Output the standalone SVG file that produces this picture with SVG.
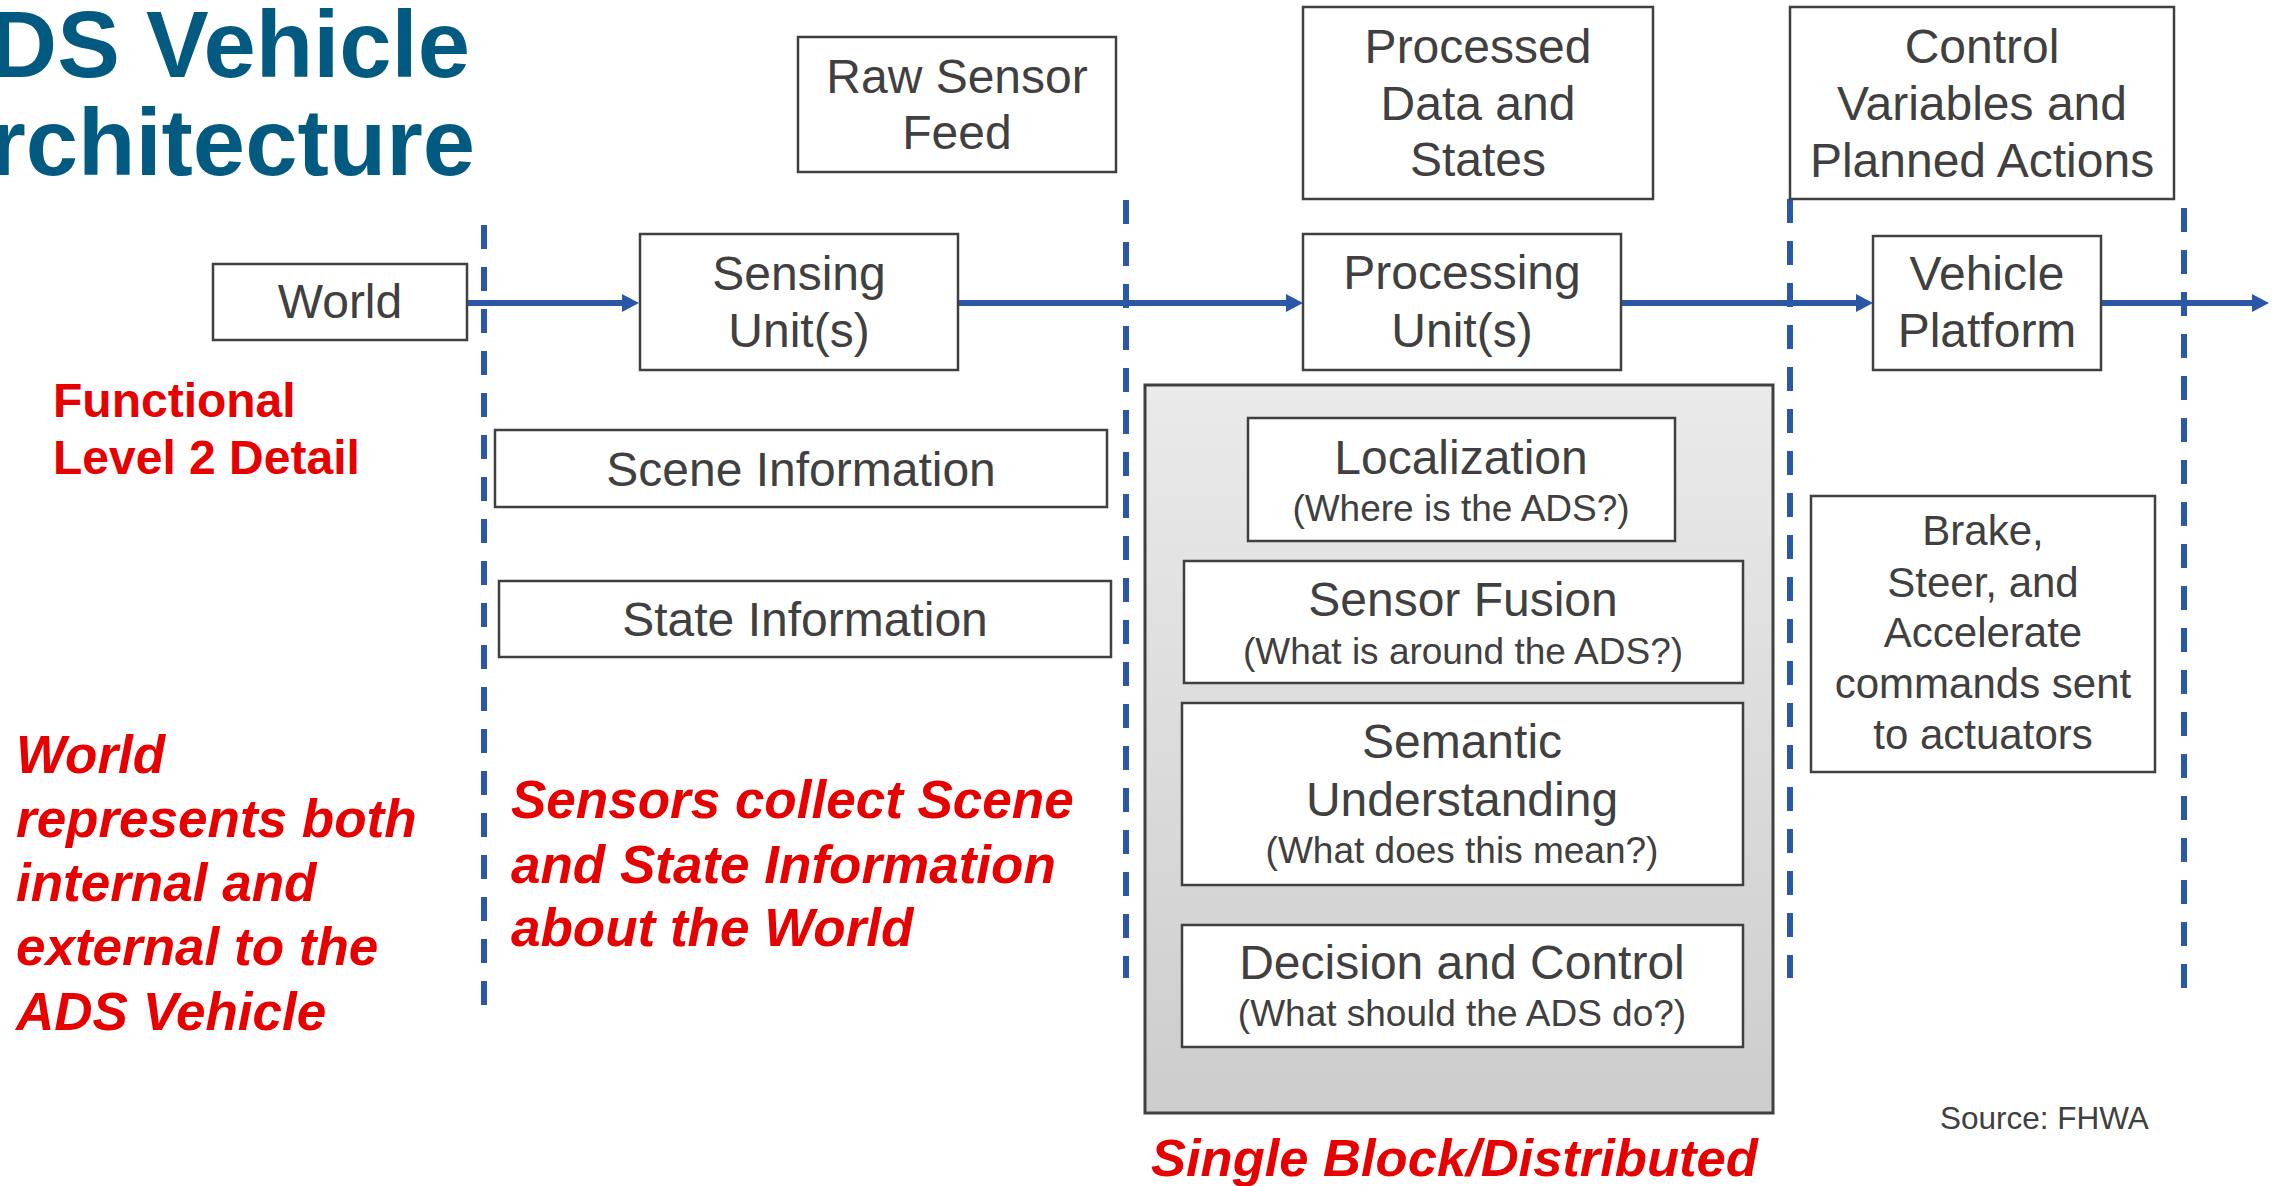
<svg xmlns="http://www.w3.org/2000/svg" width="2290" height="1186" viewBox="0 0 2290 1186">
<style>
.box{fill:#ffffff;stroke:#404040;stroke-width:2.5}
.t{font-family:"Liberation Sans",Arial,sans-serif;fill:#404040;text-anchor:middle;font-size:48px}
.s{font-size:37px}
.b{font-size:42px}
.red{font-family:"Liberation Sans",Arial,sans-serif;fill:#e60000;font-weight:bold}
.fn{font-size:48px}
.it{font-style:italic;font-size:53px}
.sb{font-size:52.5px}
.dash{stroke:#2b57a7;stroke-width:6;stroke-dasharray:24 18;fill:none}
.arr{stroke:#2b57a7;stroke-width:6;fill:none;marker-end:url(#ah)}
</style>
<defs>
<marker id="ah" markerUnits="userSpaceOnUse" markerWidth="17" markerHeight="18" refX="0" refY="9" orient="auto">
<path d="M0,0 L17,9 L0,18 z" fill="#2b57a7"/>
</marker>
<linearGradient id="gg" x1="0" y1="0" x2="0" y2="1">
<stop offset="0" stop-color="#eaeaea"/>
<stop offset="1" stop-color="#cdcdcd"/>
</linearGradient>
</defs>
<rect width="2290" height="1186" fill="#ffffff"/>
<g id="title" font-family="'Liberation Sans',Arial,sans-serif" font-weight="bold" font-size="94" fill="#035a80" text-anchor="end">
<text x="470" y="77">DS Vehicle</text>
<text x="475" y="175">rchitecture</text>
</g>
<g id="connectors">
<line class="dash" x1="484" y1="225" x2="484" y2="1005"/>
<line class="dash" x1="1126" y1="200" x2="1126" y2="978"/>
<line class="dash" x1="1790" y1="199" x2="1790" y2="978"/>
<line class="dash" x1="2184" y1="208" x2="2184" y2="988"/>
<line class="arr" x1="467" y1="303" x2="622" y2="303"/>
<line class="arr" x1="958" y1="303" x2="1286" y2="303"/>
<line class="arr" x1="1621" y1="303" x2="1856" y2="303"/>
<line class="arr" x1="2101" y1="303" x2="2252" y2="303"/>
</g>
<g id="world"><rect class="box" x="213" y="264" width="254" height="76"/><text class="t" x="340" y="318">World</text></g>
<g id="raw-sensor-feed"><rect class="box" x="798" y="37" width="318" height="135"/><text class="t" x="957" y="93">Raw Sensor</text><text class="t" x="957" y="149">Feed</text></g>
<g id="sensing-units"><rect class="box" x="640" y="234" width="318" height="136"/><text class="t" x="799" y="290">Sensing</text><text class="t" x="799" y="347">Unit(s)</text></g>
<g id="processed-data"><rect class="box" x="1303" y="7" width="350" height="192"/><text class="t" x="1478" y="63">Processed</text><text class="t" x="1478" y="120">Data and</text><text class="t" x="1478" y="176">States</text></g>
<g id="processing-units"><rect class="box" x="1303" y="234" width="318" height="136"/><text class="t" x="1462" y="289">Processing</text><text class="t" x="1462" y="347">Unit(s)</text></g>
<g id="control-variables"><rect class="box" x="1790" y="7" width="384" height="192"/><text class="t" x="1982" y="63">Control</text><text class="t" x="1982" y="120">Variables and</text><text class="t" x="1982" y="177">Planned Actions</text></g>
<g id="vehicle-platform"><rect class="box" x="1873" y="236" width="228" height="134"/><text class="t" x="1987" y="290">Vehicle</text><text class="t" x="1987" y="347">Platform</text></g>
<g id="functional-label"><text class="red fn" x="53" y="417">Functional</text><text class="red fn" x="53" y="474">Level 2 Detail</text></g>
<g id="scene-information"><rect class="box" x="495" y="430" width="612" height="77"/><text class="t" x="801" y="486">Scene Information</text></g>
<g id="state-information"><rect class="box" x="499" y="581" width="612" height="76"/><text class="t" x="805" y="636">State Information</text></g>
<g id="world-note">
<text class="red it" x="16" y="773">World</text>
<text class="red it" x="16" y="837">represents both</text>
<text class="red it" x="16" y="901">internal and</text>
<text class="red it" x="16" y="965">external to the</text>
<text class="red it" x="16" y="1030">ADS Vehicle</text>
</g>
<g id="sensors-note">
<text class="red it" x="511" y="818">Sensors collect Scene</text>
<text class="red it" x="511" y="883">and State Information</text>
<text class="red it" x="511" y="946">about the World</text>
</g>
<g id="processing-block"><rect x="1145" y="385" width="628" height="728" fill="url(#gg)" stroke="#404040" stroke-width="3"/></g>
<g id="localization"><rect class="box" x="1248" y="418" width="427" height="123"/><text class="t" x="1461" y="474">Localization</text><text class="t s" x="1461" y="521">(Where is the ADS?)</text></g>
<g id="sensor-fusion"><rect class="box" x="1184" y="561" width="559" height="122"/><text class="t" x="1463" y="616">Sensor Fusion</text><text class="t s" x="1463" y="664">(What is around the ADS?)</text></g>
<g id="semantic-understanding"><rect class="box" x="1182" y="703" width="561" height="182"/><text class="t" x="1462" y="758">Semantic</text><text class="t" x="1462" y="816">Understanding</text><text class="t s" x="1462" y="863">(What does this mean?)</text></g>
<g id="decision-control"><rect class="box" x="1182" y="925" width="561" height="122"/><text class="t" x="1462" y="979">Decision and Control</text><text class="t s" x="1462" y="1026">(What should the ADS do?)</text></g>
<g id="single-block-label"><text class="red it sb" x="1151" y="1176">Single Block/Distributed</text></g>
<g id="actuator-commands"><rect class="box" x="1811" y="496" width="344" height="276"/>
<text class="t b" x="1983" y="545">Brake,</text>
<text class="t b" x="1983" y="597">Steer, and</text>
<text class="t b" x="1983" y="647">Accelerate</text>
<text class="t b" x="1983" y="698">commands sent</text>
<text class="t b" x="1983" y="749">to actuators</text>
</g>
<g id="source"><text font-family="'Liberation Sans',Arial,sans-serif" font-size="31.5" fill="#404040" x="1940" y="1129">Source: FHWA</text></g>
</svg>
